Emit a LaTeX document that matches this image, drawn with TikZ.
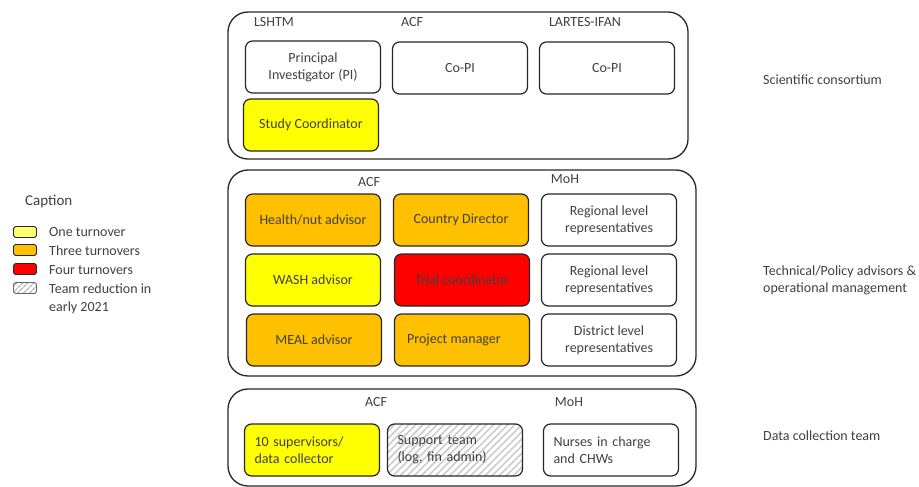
\documentclass[tikz,border=0pt]{standalone}
\usepackage{fontspec}
\setmainfont{Carlito}
\usetikzlibrary{patterns.meta}
\definecolor{txt}{HTML}{404040}
\definecolor{yel}{HTML}{FFFF00}
\definecolor{org}{HTML}{FFC000}
\definecolor{rd}{HTML}{FF0000}
\definecolor{lyel}{HTML}{FFFF70}
\tikzset{
  outer/.style={draw=black!85, line width=1.3pt, rounded corners=20pt},
  box/.style={draw=black!85, line width=1.2pt, rounded corners=7pt, minimum width=135pt, minimum height=52pt, align=center, text=txt, font=\fontsize{14}{17}\selectfont, inner sep=2pt},
  lbl/.style={text=txt, font=\fontsize{14}{17}\selectfont, inner sep=0pt},
  sw/.style={draw=black!85, line width=0.9pt, rounded corners=2.5pt, minimum width=23pt, minimum height=11pt, inner sep=0pt},
  hatch/.style={pattern={Lines[angle=45, distance=5pt, line width=1.6pt]}, pattern color=black!20},
}
\begin{document}
\begin{tikzpicture}[x=1pt,y=-1pt]
\useasboundingbox (0,0) rectangle (919,487);
% outer groups
\draw[outer] (228,12) rectangle (688,159);
\draw[outer] (228,170) rectangle (696,376);
\draw[outer] (228,389) rectangle (696,486);
% scientific consortium
\node[lbl] (l1) at (274,22) {LSHTM};
\node[lbl] (l2) at (412,22) {ACF};
\node[lbl] (l3) at (585,22) {LARTES-IFAN};
\node[box] (pi) at (313,67) {Principal\\Investigator (PI)};
\node[box] (copi1) at (460,68) {Co-PI};
\node[box] (copi2) at (607,68) {Co-PI};
\node[box, fill=yel] (sc) at (311,125) {Study Coordinator};
% technical
\node[lbl] (l4) at (369,182) {ACF};
\node[lbl] (l5) at (565,179) {MoH};
\node[box, fill=org] (hn) at (313,220) {Health/nut advisor};
\node[box, fill=org] (cd) at (461,220) {Country Director};
\node[box] (rl1) at (609,220) {Regional level\\representatives};
\node[box, fill=yel] (wash) at (313,280) {WASH advisor};
\node[box, fill=rd] (tc) at (462,280) {Trial coordinator};
\node[box] (rl2) at (609,280) {Regional level\\representatives};
\node[box, fill=org] (meal) at (314,340) {MEAL advisor};
\node[box, fill=org] (pm) at (462,340) {\hspace*{-16pt}Project manager};
\node[box] (dl) at (609,340) {District level\\representatives};
% data collection
\node[lbl] (l6) at (376,402) {ACF};
\node[lbl] (l7) at (569,402) {MoH};
\node[box, fill=yel, align=left, text width=115pt] (sup) at (312,450) {10 supervisors/\\data collector};
\node[box, hatch, align=left, text width=115pt] (st) at (455,450) {Support team\\(log, fin admin)};
\node[box, align=left, text width=115pt] (nc) at (611,450) {Nurses in charge\\and CHWs};
% right labels
\node[lbl, anchor=west] (r1) at (763,80) {Scientific consortium};
\node[lbl, anchor=west, align=left] (r2) at (763,280) {Technical/Policy advisors \&\\operational management};
\node[lbl, anchor=west] (r3) at (763,436) {Data collection team};
% legend
\node[lbl, anchor=west, font=\fontsize{15}{17}\selectfont] (cap) at (25,202) {Caption};
\node[sw, fill=lyel] (s1) at (25,232) {};
\node[sw, fill=org] (s2) at (25,250) {};
\node[sw, fill=rd] (s3) at (25,269) {};
\node[sw, draw=black!60, pattern={Lines[angle=45, distance=4pt, line width=1.3pt]}, pattern color=black!30] (s4) at (25,288) {};
\node[lbl, anchor=west] (t1) at (49,232) {One turnover};
\node[lbl, anchor=west] (t2) at (49,251) {Three turnovers};
\node[lbl, anchor=west] (t3) at (49,270) {Four turnovers};
\node[lbl, anchor=west] (t4) at (49,289) {Team reduction in};
\node[lbl, anchor=west] (t5) at (49,308) {early 2021};
\end{tikzpicture}
\end{document}
